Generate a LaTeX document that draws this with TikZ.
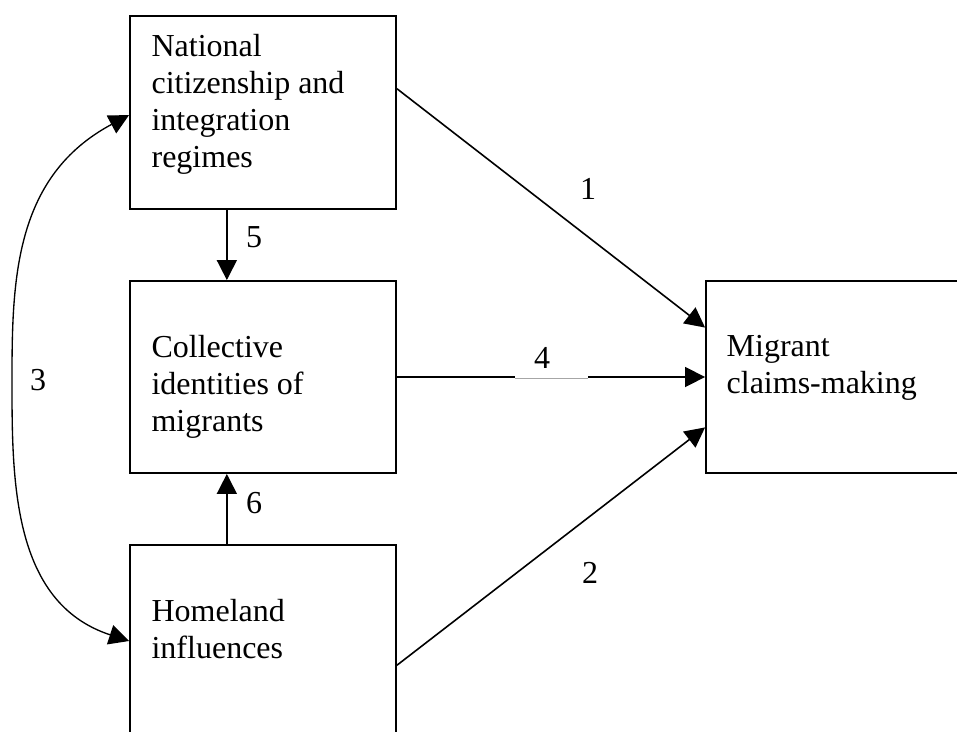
\documentclass[tikz,border=0pt]{standalone}
\usepackage{fontspec}
\setmainfont{Liberation Serif}
\usetikzlibrary{positioning,arrows.meta,calc}

\begin{document}
\begin{tikzpicture}[
    x=0.375pt, y=-0.375pt,
    box/.style={draw, line width=0.7pt, minimum width=99.75pt, minimum height=72pt, inner sep=0pt},
    txt/.style={align=left, inner sep=0pt, font=\fontsize{12}{13.8}\selectfont},
    num/.style={inner sep=0pt, font=\fontsize{12}{13.8}\selectfont},
    arr/.style={-{Triangle[length=7.5pt, width=7.5pt]}, line width=0.6pt},
    dblarr/.style={{Triangle[length=7.5pt, width=7.5pt]}-{Triangle[length=7.5pt, width=7.5pt]}, line width=0.5pt}
  ]
    \useasboundingbox (0,0) rectangle (957,731);
    \clip (0,0) rectangle (957,731);

    % boxes
    \node[box, minimum height=72.4pt] (nat) at (263,112.5) {};
    \node[box] (col) at (263,377) {};
    \node[box] (hom) at (263,641) {};
    \node[box, minimum width=97.5pt] (mig) at (836,377) {};

    \node[txt, below right=7.1pt and 8.25pt of nat.north west] (natT) {National\\citizenship and\\integration\\regimes};
    \node[txt, below right=20.6pt and 8.25pt of col.north west] (colT) {Collective\\identities of\\migrants};
    \node[txt, below right=20.6pt and 8.25pt of hom.north west] (homT) {Homeland\\influences};
    \node[txt, below right=20.6pt and 7.9pt of mig.north west] (migT) {Migrant\\claims-making};

    % paths
    \draw[arr] ($(nat.north east)!0.378!(nat.south east)$) -- ($(mig.north west)!0.245!(mig.south west)$);
    \draw[arr] ($(hom.north east)!0.625!(hom.south east)$) -- ($(mig.north west)!0.76!(mig.south west)$);
    \draw[arr] (col.east) -- (mig.west);
    \fill[white] (515,370) rectangle (588,386);
    \draw[black!35, line width=0.3pt] (515,378) -- (588,378);
    \draw[arr] ($(nat.south west)!0.365!(nat.south east)$) -- ($(col.north west)!0.365!(col.north east)$);
    \draw[arr] ($(hom.north west)!0.365!(hom.north east)$) -- ($(col.south west)!0.365!(col.south east)$);

    \coordinate (bend) at (12,378);
    \draw[dblarr] ($(nat.north west)!0.513!(nat.south west)$) .. controls (15.2,176) and (12,278) .. (bend)
      .. controls (12,478) and (11.1,602.4) .. (hom.west);

    % labels
    \node[num] (l1) at (588,189) {1};
    \node[num] (l2) at (590,573) {2};
    \node[num] (l3) at (38,380) {3};
    \node[num] (l4) at (542,358) {4};
    \node[num] (l5) at (254,237) {5};
    \node[num] (l6) at (254,503) {6};
  \end{tikzpicture}
\end{document}
